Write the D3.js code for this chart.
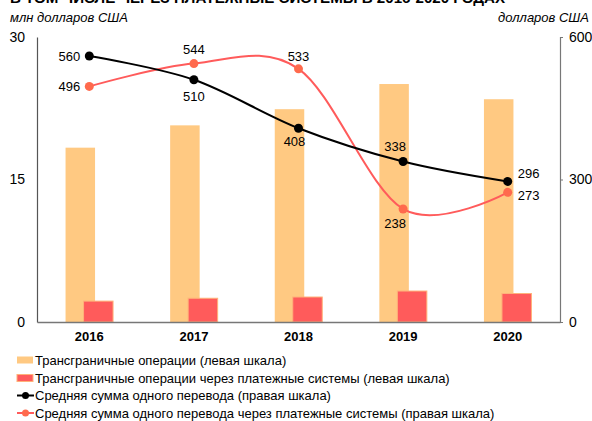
<!DOCTYPE html>
<html><head><meta charset="utf-8">
<script src="https://cdn.jsdelivr.net/npm/d3@7"></script>
<style>body{margin:0;background:#fff}svg{display:block;font-family:"Liberation Sans",Arial,sans-serif}</style>
</head><body><svg id="c" width="592" height="421"></svg>
<script>
const years = ["2016","2017","2018","2019","2020"];
const crossBorder = [18.35, 20.7, 22.4, 25.05, 23.45];
const crossBorderPS = [2.2, 2.5, 2.63, 3.26, 3.0];
const avgTransfer = [560, 510, 408, 338, 296];
const avgTransferPS = [496, 544, 533, 238, 273];
const leftTicks = [0, 15, 30];
const rightTicks = [0, 300, 600];
const legendLabels = [
  "Трансграничные операции (левая шкала)",
  "Трансграничные операции через платежные системы (левая шкала)",
  "Средняя сумма одного перевода (правая шкала)",
  "Средняя сумма одного перевода через платежные системы (правая шкала)"
];
const titleText = "В ТОМ ЧИСЛЕ ЧЕРЕЗ ПЛАТЕЖНЫЕ СИСТЕМЫ В 2016-2020 ГОДАХ";

const svg = d3.select("#c");
const L = 37, R = 560, T = 37, B = 322;
const x = d3.scaleBand().domain(years).range([L, R]);
const yL = d3.scaleLinear().domain([0, 30]).range([B, T]);
const yR = d3.scaleLinear().domain([0, 600]).range([B, T]);
const cx = d => x(d) + x.bandwidth() / 2;
const FONT = "Liberation Sans, Arial, sans-serif";

// title (cut off at top edge, as in the reference)
svg.append("text").attr("x", 10).attr("y", 3).attr("font-size", 15).attr("font-weight", "bold")
  .attr("textLength", 495).attr("lengthAdjust", "spacingAndGlyphs")
  .attr("fill", "#000").text(titleText);

// axis titles
svg.append("text").attr("x", 10).attr("y", 22).attr("font-size", 13).attr("font-style", "italic").text("млн долларов США");
svg.append("text").attr("x", 589).attr("y", 22).attr("font-size", 13).attr("font-style", "italic").attr("text-anchor", "end").text("долларов США");

// bars
const bw = 29.5, off = 9;
svg.append("g").selectAll("rect").data(years).join("rect")
  .attr("x", (d) => cx(d) - off - bw / 2).attr("width", bw)
  .attr("y", (d, i) => yL(crossBorder[i])).attr("height", (d, i) => B - yL(crossBorder[i]))
  .attr("fill", "#FFC982");
svg.append("g").selectAll("rect").data(years).join("rect")
  .attr("x", (d) => cx(d) + off - bw / 2).attr("width", bw)
  .attr("y", (d, i) => yL(crossBorderPS[i])).attr("height", (d, i) => B - yL(crossBorderPS[i]))
  .attr("fill", "#FF5B5B").attr("stroke", "#FFB27A").attr("stroke-width", 1);

// axes
const axL = svg.append("g").attr("transform", `translate(${L},0)`)
  .call(d3.axisLeft(yL).tickValues(leftTicks).tickSize(0).tickPadding(12));
axL.select(".domain").attr("stroke", "#555").attr("stroke-width", 1.2);
axL.selectAll("text").attr("font-size", 14).attr("fill", "#000").attr("font-family", FONT);

const axR = svg.append("g").attr("transform", `translate(${R},0)`)
  .call(d3.axisRight(yR).tickValues(rightTicks).tickSize(3).tickSizeOuter(3).tickPadding(6));
axR.select(".domain").attr("stroke", "#777").attr("stroke-width", 1.2);
axR.selectAll(".tick line").attr("stroke", "#777");
axR.selectAll("text").attr("font-size", 14).attr("fill", "#000").attr("font-family", FONT);

const axB = svg.append("g").attr("transform", `translate(0,${B})`)
  .call(d3.axisBottom(x).tickSize(0).tickPadding(10));
axB.select(".domain").attr("stroke", "#777").attr("stroke-width", 1.5);
axB.selectAll("text").attr("font-size", 13).attr("font-weight", "bold").attr("fill", "#000").attr("font-family", FONT);

// lines
const curve = d3.curveCardinal.tension(0);
const lineGen = vals => d3.line().x((d, i) => cx(years[i])).y(d => yR(d)).curve(curve)(vals);
svg.append("path").attr("d", lineGen(avgTransferPS)).attr("fill", "none").attr("stroke", "#FF5B5B").attr("stroke-width", 2);
svg.append("path").attr("d", lineGen(avgTransfer)).attr("fill", "none").attr("stroke", "#000").attr("stroke-width", 2);
svg.append("g").selectAll("circle").data(avgTransferPS).join("circle")
  .attr("cx", (d, i) => cx(years[i])).attr("cy", d => yR(d)).attr("r", 4.5).attr("fill", "#FF6A4D");
svg.append("g").selectAll("circle").data(avgTransfer).join("circle")
  .attr("cx", (d, i) => cx(years[i])).attr("cy", d => yR(d)).attr("r", 4.5).attr("fill", "#000");

// data labels: [dx, dy, anchor]
const posBlack = [[-9, 5, "end"], [0, 21, "middle"], [-4, 18, "middle"], [-8, -10, "middle"], [10, -3, "start"]];
const posRed = [[-9, 5, "end"], [0, -10, "middle"], [0, -8, "middle"], [-8, 19, "middle"], [10, 8, "start"]];
function labels(vals, pos) {
  svg.append("g").selectAll("text").data(vals).join("text")
    .attr("x", (d, i) => cx(years[i]) + pos[i][0]).attr("y", (d, i) => yR(d) + pos[i][1])
    .attr("text-anchor", (d, i) => pos[i][2]).attr("font-size", 13).attr("fill", "#000").text(d => d);
}
labels(avgTransfer, posBlack);
labels(avgTransferPS, posRed);

// legend
const lg = svg.append("g");
const rowsY = [360, 378, 395.5, 413];
lg.append("rect").attr("x", 17).attr("y", rowsY[0] - 3.5).attr("width", 16).attr("height", 7).attr("fill", "#FFC982");
lg.append("rect").attr("x", 17).attr("y", rowsY[1] - 3.5).attr("width", 16).attr("height", 7).attr("fill", "#FF5B5B").attr("stroke", "#FFB27A");
[["#000", "#000"], ["#FF5B5B", "#FF6A4D"]].forEach((c, k) => {
  const yy = rowsY[2 + k];
  lg.append("line").attr("x1", 17).attr("x2", 34).attr("y1", yy).attr("y2", yy).attr("stroke", c[0]).attr("stroke-width", 2);
  lg.append("circle").attr("cx", 25.5).attr("cy", yy).attr("r", 3.5).attr("fill", c[1]);
});
lg.selectAll("text").data(legendLabels).join("text")
  .attr("x", 35).attr("y", (d, i) => rowsY[i] + 4.5).attr("font-size", 13).attr("fill", "#000").text(d => d);
</script></body></html>
